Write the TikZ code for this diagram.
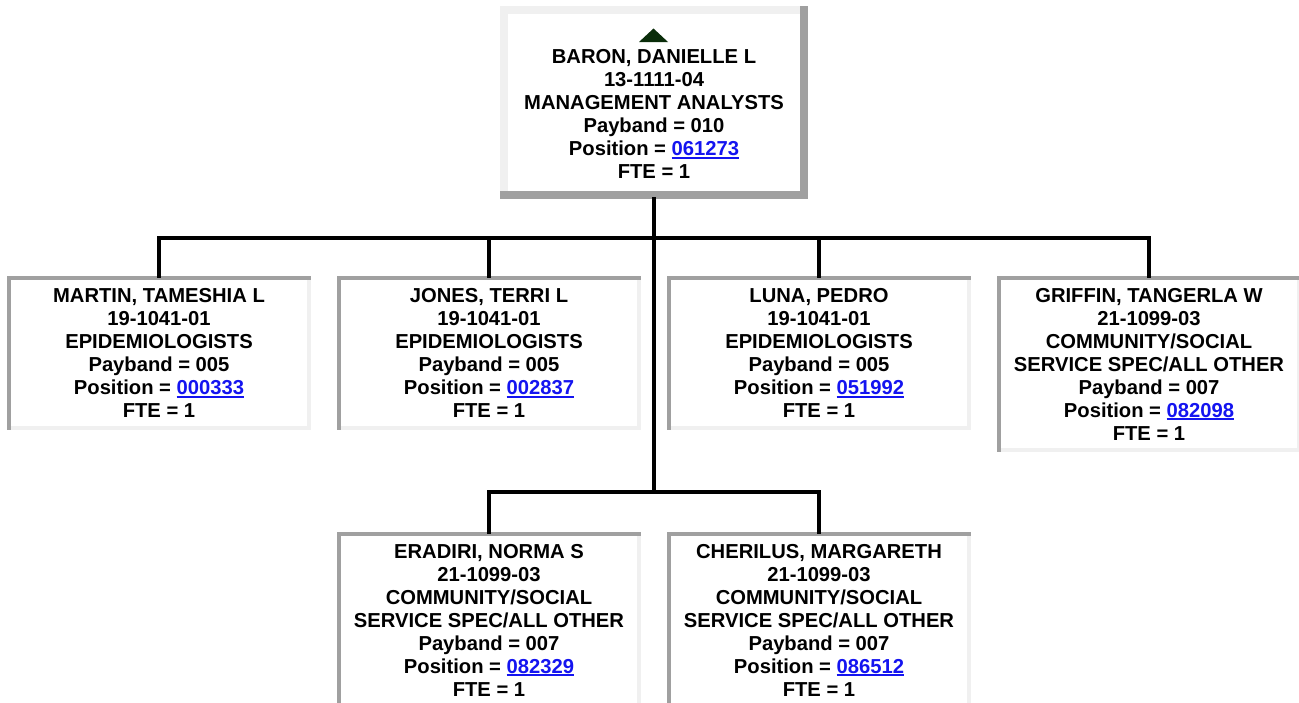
\documentclass[tikz,border=0pt]{standalone}
\usepackage{fontspec}
\setmainfont{Liberation Sans}
\definecolor{bdark}{RGB}{160,160,160}
\definecolor{blight}{RGB}{240,240,240}
\definecolor{linkblue}{RGB}{20,20,240}
\definecolor{tricol}{RGB}{10,45,10}
\newcommand{\cardfont}{\fontsize{20.2}{23}\selectfont\bfseries}
\newcommand{\poslink}[1]{{\color{linkblue}\setbox0=\hbox{#1}\rlap{\rule[-3pt]{\wd0}{1.8pt}}\box0}}
\tikzset{
  card/.style={fill=white, inner sep=0pt, align=center, font=\cardfont, minimum width=304pt},
  inset/.style={card, path picture={
    \fill[blight] (path picture bounding box.south west) rectangle ([yshift=4pt]path picture bounding box.south east);
    \fill[blight] (path picture bounding box.south east) rectangle ([xshift=-4pt]path picture bounding box.north east);
    \fill[bdark] (path picture bounding box.north west) rectangle ([yshift=-4pt]path picture bounding box.north east);
    \fill[bdark] (path picture bounding box.north west) rectangle ([xshift=4pt]path picture bounding box.south west);
  }},
  outset/.style={fill=white, inner sep=0pt, minimum width=308pt, minimum height=193pt, path picture={
    \fill[blight] (path picture bounding box.north west) rectangle ([yshift=-8pt]path picture bounding box.north east);
    \fill[blight] (path picture bounding box.north west) rectangle ([xshift=8pt]path picture bounding box.south west);
    \fill[bdark] (path picture bounding box.north east) rectangle ([xshift=-8pt]path picture bounding box.south east);
    \fill[bdark] (path picture bounding box.south west) rectangle ([yshift=8pt]path picture bounding box.south east);
  }},
  cardtext/.style={inner sep=0pt, align=center, font=\cardfont},
  link/.style={line width=4pt, line cap=rect, line join=miter, black},
}
\begin{document}
\begin{tikzpicture}[x=1pt,y=1pt]
\useasboundingbox[fill=white] (0,0) rectangle (1299,-702);
% top box
\node[outset] (top) at (654,-102.5) {};
\fill[tricol] (639,-42) -- (668,-42) -- (653.5,-28.5) -- cycle;
\node[cardtext] (toptext) at (654,-114.4) {BARON, DANIELLE L\\13-1111-04\\MANAGEMENT ANALYSTS\\Payband = 010\\Position = \poslink{061273}\\FTE = 1};
% first row
\node[inset, minimum height=154pt] (martin) at (159,-353) {MARTIN, TAMESHIA L\\19-1041-01\\EPIDEMIOLOGISTS\\Payband = 005\\Position = \poslink{000333}\\FTE = 1};
\node[inset, minimum height=154pt] (jones) at (489,-353) {JONES, TERRI L\\19-1041-01\\EPIDEMIOLOGISTS\\Payband = 005\\Position = \poslink{002837}\\FTE = 1};
\node[inset, minimum height=154pt] (luna) at (819,-353) {LUNA, PEDRO\\19-1041-01\\EPIDEMIOLOGISTS\\Payband = 005\\Position = \poslink{051992}\\FTE = 1};
\node[inset, minimum height=176pt] (griffin) at (1149,-364) {GRIFFIN, TANGERLA W\\21-1099-03\\COMMUNITY/SOCIAL\\SERVICE SPEC/ALL OTHER\\Payband = 007\\Position = \poslink{082098}\\FTE = 1};
% second row
\node[inset, minimum height=176pt] (eradiri) at (489,-620) {ERADIRI, NORMA S\\21-1099-03\\COMMUNITY/SOCIAL\\SERVICE SPEC/ALL OTHER\\Payband = 007\\Position = \poslink{082329}\\FTE = 1};
\node[inset, minimum height=176pt] (cherilus) at (819,-620) {CHERILUS, MARGARETH\\21-1099-03\\COMMUNITY/SOCIAL\\SERVICE SPEC/ALL OTHER\\Payband = 007\\Position = \poslink{086512}\\FTE = 1};
% connectors
\coordinate (bus) at (654,-238);
\coordinate (bus2) at (654,-492);
\draw[link] (top.south) -- (bus2);
\draw[link] (martin.north) |- (bus) -| (griffin.north);
\draw[link] (jones.north) -- (jones.north |- bus);
\draw[link] (luna.north) -- (luna.north |- bus);
\draw[link] (eradiri.north) |- (bus2) -| (cherilus.north);
\end{tikzpicture}
\end{document}
